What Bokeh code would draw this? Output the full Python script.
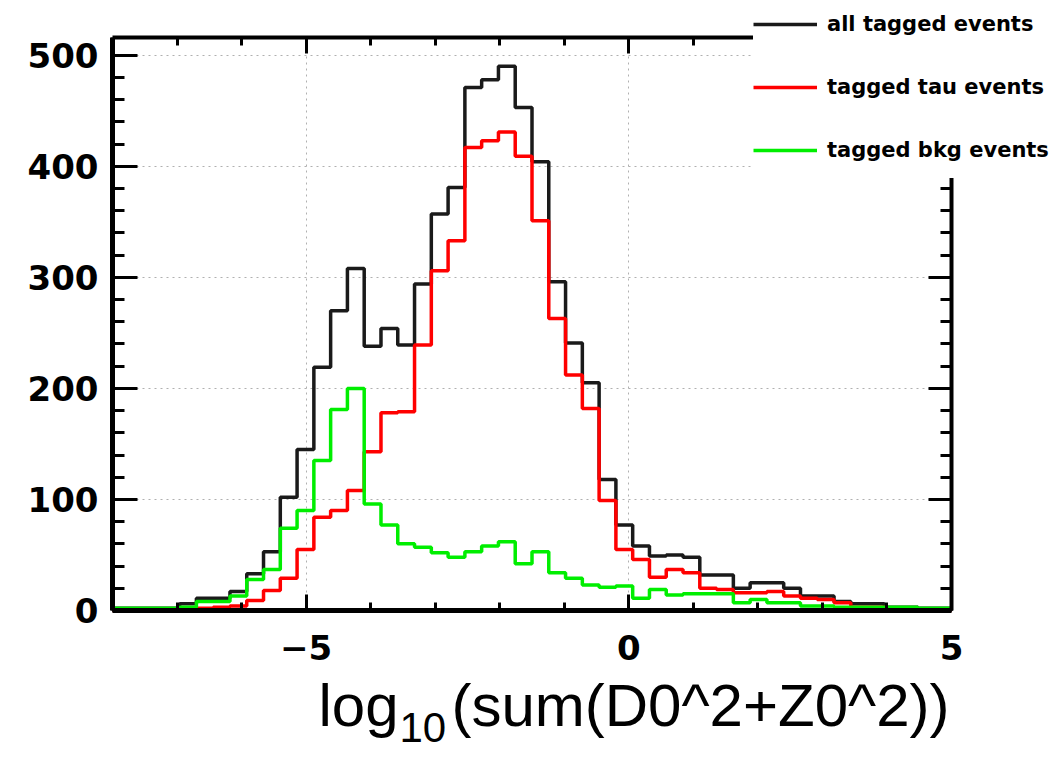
import numpy as np
from bokeh.plotting import figure
from bokeh.models import (Range1d, LinearAxis, SingleIntervalTicker, Legend,
                          LegendItem, Label, Grid)
from bokeh.embed import file_html
from bokeh.resources import INLINE

# ---------------- data ----------------
bin_low = -8.0
bin_width = 0.26
n_bins = 50

all_tagged = [2, 2, 2, 2, 6, 11, 11, 17, 33, 53,
              102, 145, 219, 270, 308, 238, 254, 239, 294, 357,
              381, 471, 478, 490, 453, 404, 296, 241, 205, 118,
              77, 58, 49, 50, 48, 32, 32, 20, 25, 25,
              20, 13, 13, 8, 6, 6, 3, 3, 2, 2]
tau_tagged = [0, 0, 0, 0, 1, 2, 3, 4, 9, 18,
              29, 55, 84, 90, 108, 143, 178, 179, 239, 306,
              333, 417, 423, 431, 409, 351, 263, 212, 182, 99,
              55, 46, 30, 37, 34, 20, 19, 16, 16, 17,
              13, 11, 10, 7, 3, 3, 1, 1, 0, 0]
bkg_tagged = [2, 2, 2, 2, 3, 8, 8, 13, 28, 37,
              74, 90, 135, 181, 200, 96, 77, 60, 57, 52,
              48, 53, 58, 62, 42, 53, 34, 29, 23, 21,
              22, 11, 19, 14, 15, 15, 15, 7, 10, 7,
              7, 4, 4, 3, 3, 3, 3, 3, 2, 2]
series_labels = ["all tagged events", "tagged tau events", "tagged bkg events"]
series_colors = ["#1a1a1a", "#ff0000", "#00ee00"]
x_tick_labels = {-5: "\u22125", 0: "0", 5: "5"}
x_title_main = "log"
x_title_sub = "10"
x_title_rest = "(sum(D0^2+Z0^2))"

# ---------------- geometry ----------------
W, H = 1059, 757
X0, X1 = -8.0, 5.0          # axis box, data
Y0, Y1 = 0.0, 516.0
FL, FR, FT, FB = 112, 951, 37, 610   # axis box, pixels
kx = (FR - FL) / (X1 - X0)
ky = (FB - FT) / (Y1 - Y0)
xr = Range1d(X0 - FL / kx, X1 + (W - FR) / kx)
yr = Range1d(Y0 - (H - FB) / ky, Y1 + FT / ky)

def xd(px):
    return X0 + (px - FL) / kx

def yd(py):
    return Y0 + (FB - py) / ky

p = figure(width=W, height=H, x_range=xr, y_range=yr,
           x_axis_location=None, y_axis_location=None,
           output_backend="svg", toolbar_location=None,
           min_border=0, min_border_left=0, min_border_right=0,
           min_border_top=0, min_border_bottom=0)
p.outline_line_color = None
p.background_fill_color = "white"
p.border_fill_color = "white"
for g in p.grid:
    g.visible = False

xt = SingleIntervalTicker(interval=5, num_minor_ticks=5)
yt = SingleIntervalTicker(interval=100, num_minor_ticks=5)

# dotted grid, limited to the axis box
for dim, tk, b, cb in ((0, xt, (X0, X1), (Y0, Y1)), (1, yt, (Y0, Y1), (X0, X1))):
    g = Grid(dimension=dim, ticker=tk, bounds=b, cross_bounds=cb,
             grid_line_color="#b0b0b0", grid_line_dash="2 4", grid_line_width=1)
    p.add_layout(g)

bottom_ax = LinearAxis(ticker=xt, fixed_location=Y0, bounds=(X0, X1))
top_ax = LinearAxis(ticker=xt, fixed_location=Y1, bounds=(X0, X1))
left_ax = LinearAxis(ticker=yt, fixed_location=X0, bounds=(Y0, Y1))
right_ax = LinearAxis(ticker=yt, fixed_location=X1, bounds=(Y0, Y1))
p.add_layout(bottom_ax, "below")
p.add_layout(top_ax, "above")
p.add_layout(left_ax, "left")
p.add_layout(right_ax, "right")

def style(ax, major_in, minor_in, labels, lw):
    ax.axis_line_width = lw
    ax.axis_line_color = "black"
    ax.major_tick_in = major_in
    ax.major_tick_out = 0
    ax.minor_tick_in = minor_in
    ax.minor_tick_out = 0
    ax.major_tick_line_width = 3
    ax.minor_tick_line_width = 3
    ax.major_tick_line_color = "black"
    ax.minor_tick_line_color = "black"
    ax.major_label_text_font = "DejaVu Sans"
    ax.major_label_text_font_style = "bold"
    ax.major_label_text_font_size = "34px"
    ax.major_label_text_color = "black"
    if not labels:
        ax.major_label_text_alpha = 0
        ax.major_label_text_font_size = "1px"

style(bottom_ax, 16, 8, True, 5)
style(top_ax, 16, 8, False, 4)
style(left_ax, 25, 12, True, 5)
style(right_ax, 23, 11, False, 4)
bottom_ax.major_label_overrides = x_tick_labels
bottom_ax.major_label_standoff = 24
left_ax.major_label_standoff = 14

# ---------------- histograms ----------------
edges = bin_low + bin_width * np.arange(n_bins + 1)
renderers = []
for vals, col in zip([all_tagged, tau_tagged, bkg_tagged], series_colors):
    yv = list(vals) + [vals[-1]]
    r = p.step(x=edges, y=yv, mode="after", line_color=col, line_width=3.5)
    renderers.append(r)

# ---------------- legend ----------------
legend = Legend(items=[LegendItem(label=l, renderers=[r]) for l, r in zip(series_labels, renderers)],
                location=(753, H - 178), orientation="vertical",
                background_fill_color="white", background_fill_alpha=1.0,
                border_line_color=None, padding=0, spacing=7, margin=0,
                glyph_height=56, glyph_width=64, label_height=56, label_standoff=10,
                label_text_font="DejaVu Sans", label_text_font_style="bold",
                label_text_font_size="21px", label_text_color="black")
p.add_layout(legend)

# ---------------- axis title (with subscript) ----------------
p.add_layout(Label(x=xd(318), y=yd(705), text=x_title_main, text_font="Liberation Sans",
                   text_font_size="60px", text_baseline="alphabetic", text_align="left",
                   text_color="black"))
p.add_layout(Label(x=xd(399), y=yd(727), text=x_title_sub, text_font="Liberation Sans",
                   text_font_size="42px", text_baseline="alphabetic", text_align="left",
                   text_color="black"))
p.add_layout(Label(x=xd(949), y=yd(705), text=x_title_rest, text_font="Liberation Sans",
                   text_font_size="60px", text_baseline="alphabetic", text_align="right",
                   text_color="black"))

open("out.html", "w").write(file_html(p, INLINE))
